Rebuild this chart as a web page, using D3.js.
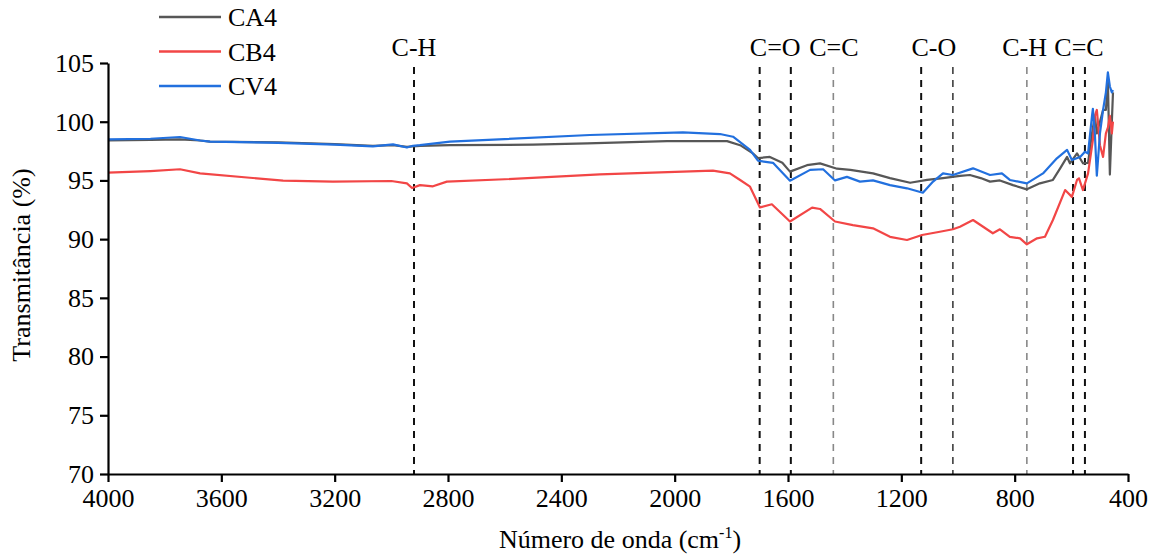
<!DOCTYPE html>
<html>
<head>
<meta charset="utf-8">
<script src="https://cdn.jsdelivr.net/npm/d3@7"></script>
<style>
  body { margin: 0; background: #fff; }
  text { font-family: "Liberation Serif", "Times New Roman", serif; fill: #000; }
</style>
</head>
<body>
<div id="chart"></div>
<script>
// spectra: [wavenumber, transmittance]
const ca4 = [
  [4000, 98.4], [3850, 98.45], [3746, 98.5], [3675, 98.4], [3640, 98.3], [3400, 98.25],
  [3200, 98.1], [3065, 97.95], [2994, 98.0], [2945, 97.85], [2924, 97.9], [2899, 97.95],
  [2793, 98.0], [2500, 98.05], [2309, 98.15], [2027, 98.35], [1815, 98.35], [1769, 98.0],
  [1724, 97.3], [1706, 96.9], [1664, 97.0], [1620, 96.5], [1593, 95.75], [1533, 96.3],
  [1487, 96.45], [1427, 96.0], [1380, 95.9], [1300, 95.6], [1240, 95.2], [1169, 94.8],
  [1109, 95.05], [1053, 95.2], [993, 95.38], [958, 95.46], [920, 95.2], [887, 94.9],
  [852, 95.0], [806, 94.6], [757, 94.24], [711, 94.75], [665, 95.04], [640, 96.0],
  [615, 97.0], [605, 96.46], [580, 97.3], [559, 96.46], [541, 96.5], [527, 99.0],
  [517, 100.5], [510, 99.0], [499, 100.0], [488, 101.0], [478, 101.0], [471, 103.5],
  [464, 95.5], [457, 100.0], [453, 102.5]
];
const cb4 = [
  [4000, 95.66], [3850, 95.8], [3746, 95.95], [3675, 95.6], [3499, 95.23], [3382, 94.98],
  [3206, 94.9], [3000, 94.95], [2945, 94.75], [2927, 94.35], [2899, 94.6], [2853, 94.5],
  [2804, 94.9], [2600, 95.1], [2264, 95.52], [1865, 95.83], [1805, 95.6], [1769, 95.04],
  [1734, 94.47], [1699, 92.7], [1657, 92.97], [1593, 91.5], [1515, 92.68], [1487, 92.57],
  [1434, 91.5], [1371, 91.2], [1300, 90.92], [1240, 90.2], [1180, 89.93], [1127, 90.35],
  [1064, 90.63], [1018, 90.84], [993, 91.06], [947, 91.63], [877, 90.5], [852, 90.84],
  [817, 90.2], [781, 90.07], [757, 89.56], [721, 90.07], [693, 90.2], [665, 91.63],
  [622, 94.18], [598, 93.6], [580, 95.04], [573, 95.18], [559, 94.18], [541, 95.6],
  [524, 98.44], [517, 100.5], [510, 101.0], [499, 98.0], [488, 97.0], [478, 99.0],
  [471, 99.5], [464, 100.5], [457, 99.0], [453, 100.0]
];
const cv4 = [
  [4000, 98.5], [3850, 98.55], [3746, 98.7], [3675, 98.4], [3640, 98.3], [3400, 98.2],
  [3200, 98.05], [3065, 97.9], [2994, 98.07], [2945, 97.8], [2924, 97.95], [2899, 98.0],
  [2793, 98.3], [2299, 98.87], [1971, 99.1], [1840, 98.95], [1794, 98.72], [1734, 97.6],
  [1706, 96.68], [1653, 96.5], [1593, 94.98], [1522, 95.9], [1476, 95.95], [1434, 95.0],
  [1392, 95.3], [1346, 94.9], [1300, 95.0], [1240, 94.6], [1180, 94.33], [1124, 93.95],
  [1088, 94.9], [1053, 95.6], [1018, 95.46], [947, 96.03], [887, 95.46], [845, 95.6],
  [817, 95.04], [757, 94.75], [700, 95.6], [651, 96.88], [615, 97.6], [598, 96.74],
  [569, 97.0], [552, 97.45], [541, 97.3], [527, 100.5], [524, 101.1], [517, 99.0],
  [510, 95.4], [499, 99.0], [488, 101.0], [478, 102.5], [471, 104.2], [464, 103.0],
  [457, 102.5], [453, 102.7]
];

const seriesNames = ['CA4', 'CB4', 'CV4'];
const seriesColors = ['#575757', '#f24646', '#2270de'];
const xTicks = [4000, 3600, 3200, 2800, 2400, 2000, 1600, 1200, 800, 400];
const yTicks = [70, 75, 80, 85, 90, 95, 100, 105];

// band markers: wavenumber and line style
const bandLines = [
  { wn: 2920, kind: 'bold' }, { wn: 1700, kind: 'bold' }, { wn: 1590, kind: 'bold' },
  { wn: 1440, kind: 'grey' }, { wn: 1130, kind: 'bold' }, { wn: 1018, kind: 'thin' },
  { wn: 757, kind: 'grey' }, { wn: 594, kind: 'bold' }, { wn: 552, kind: 'bold' }
];
const bandLabels = [
  { wn: 2920, text: 'C-H' }, { wn: 1645, text: 'C=O' }, { wn: 1438, text: 'C=C' },
  { wn: 1085, text: 'C-O' }, { wn: 765, text: 'C-H' }, { wn: 573, text: 'C=C' }
];

const margin = { top: 63, right: 35, bottom: 83, left: 108 },
  width = 1163 - margin.left - margin.right,
  height = 557 - margin.top - margin.bottom;

const svg = d3.select('#chart')
  .append('svg')
  .attr('width', 1163)
  .attr('height', 557);

const g = svg.append('g')
  .attr('transform', `translate(${margin.left},${margin.top})`);

const x = d3.scaleLinear().domain([4000, 400]).range([0, width]);
const y = d3.scaleLinear().domain([70, 105]).range([height, 0]);

// dashed band lines
const styleOf = {
  bold: { color: '#111', w: 2 },
  thin: { color: '#111', w: 1.3 },
  grey: { color: '#888', w: 1.6 }
};
g.selectAll('.band')
  .data(bandLines)
  .join('line')
  .attr('x1', d => x(d.wn))
  .attr('x2', d => x(d.wn))
  .attr('y1', 4)
  .attr('y2', height)
  .attr('stroke', d => styleOf[d.kind].color)
  .attr('stroke-width', d => styleOf[d.kind].w)
  .attr('stroke-dasharray', '7,6');

g.selectAll('.blabel')
  .data(bandLabels)
  .join('text')
  .attr('x', d => x(d.wn))
  .attr('y', -7)
  .attr('text-anchor', 'middle')
  .style('font-size', '26px')
  .text(d => d.text);

// spectra
const line = d3.line()
  .x(d => x(d[0]))
  .y(d => y(d[1]));

[ca4, cb4, cv4].forEach((s, i) => {
  g.append('path')
    .datum(s)
    .attr('fill', 'none')
    .attr('stroke', seriesColors[i])
    .attr('stroke-width', 2.2)
    .attr('stroke-linejoin', 'round')
    .attr('d', line);
});

// axes
const xAxis = g.append('g')
  .attr('transform', `translate(0,${height})`)
  .call(d3.axisBottom(x).tickValues(xTicks).tickFormat(d3.format('d'))
    .tickSize(8).tickSizeOuter(0).tickPadding(7));
const yAxis = g.append('g')
  .call(d3.axisLeft(y).tickValues(yTicks).tickFormat(d3.format('d'))
    .tickSize(8).tickSizeOuter(0).tickPadding(6));

[xAxis, yAxis].forEach(a => {
  a.attr('font-family', null).attr('font-size', null);
  a.select('.domain').attr('stroke', '#000').attr('stroke-width', 2.2);
  a.selectAll('.tick line').attr('stroke', '#000').attr('stroke-width', 2.2);
  a.selectAll('.tick text')
    .style('font-size', '26px')
    .style('font-family', '"Liberation Serif", "Times New Roman", serif');
});

// axis titles
g.append('text')
  .attr('transform', 'rotate(-90)')
  .attr('x', -202)
  .attr('y', -78)
  .attr('text-anchor', 'middle')
  .style('font-size', '26px')
  .text('Transmitância (%)');

const xt = g.append('text')
  .attr('x', 512)
  .attr('y', height + 74)
  .attr('text-anchor', 'middle')
  .style('font-size', '26px');
xt.append('tspan').text('Número de onda (cm');
xt.append('tspan').attr('dy', -10).style('font-size', '16px').text('-1');
xt.append('tspan').attr('dy', 10).text(')');

// legend
const legend = svg.append('g');
seriesNames.forEach((name, i) => {
  const ly = 17 + i * 34.5;
  legend.append('line')
    .attr('x1', 159).attr('x2', 221)
    .attr('y1', ly).attr('y2', ly)
    .attr('stroke', seriesColors[i])
    .attr('stroke-width', 2.5);
  legend.append('text')
    .attr('x', 228)
    .attr('y', ly)
    .attr('dy', '0.35em')
    .style('font-size', '26px')
    .text(name);
});
</script>
</body>
</html>
